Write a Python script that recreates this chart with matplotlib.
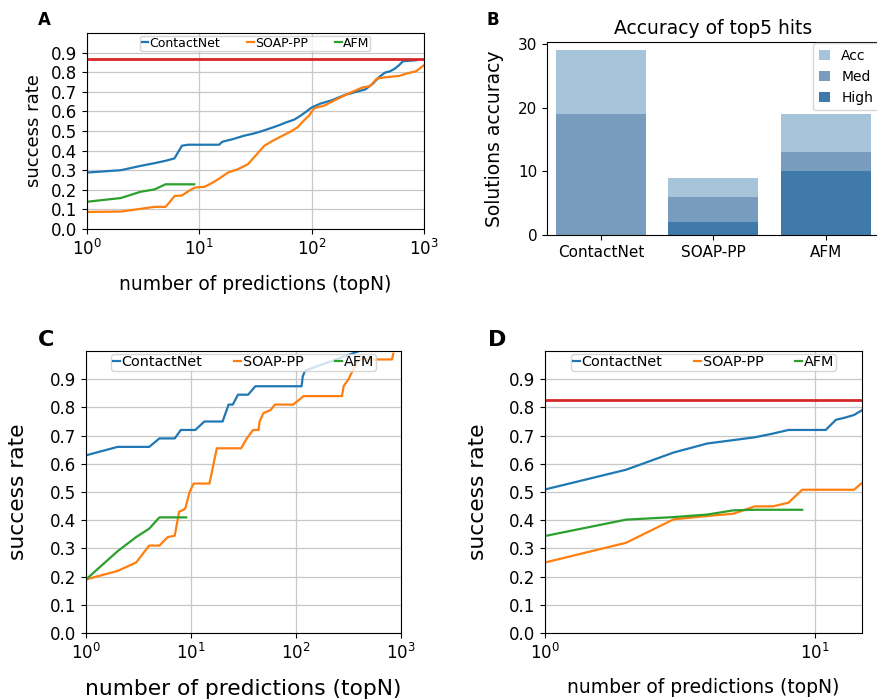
import matplotlib
matplotlib.use("Agg")
import matplotlib.pyplot as plt
import numpy as np

# ---- panel A: success rate vs topN (all targets) ----
a_cn_n = [1, 2, 3, 4, 5, 6, 7, 8, 15, 16, 20, 25, 30, 35, 40, 50, 60, 70, 80, 90, 100,
          120, 150, 200, 250, 300, 350, 400, 450, 500, 550, 600, 650, 850]
a_cn_y = [0.288, 0.30, 0.322, 0.336, 0.348, 0.36, 0.425, 0.43, 0.43, 0.445, 0.459, 0.476,
          0.486, 0.497, 0.508, 0.527, 0.545, 0.558, 0.579, 0.60, 0.62, 0.64, 0.656, 0.685,
          0.70, 0.712, 0.741, 0.776, 0.798, 0.805, 0.818, 0.836, 0.856, 0.861]
a_sp_n = [1, 2, 3, 4, 5, 5.5, 6, 7, 8, 9, 10, 11, 13, 15, 18, 22, 27, 32, 38, 45, 55, 65,
          75, 85, 95, 105, 130, 170, 220, 280, 330, 380, 450, 600, 700, 850, 1000]
a_sp_y = [0.087, 0.089, 0.103, 0.113, 0.113, 0.14, 0.168, 0.171, 0.193, 0.21, 0.214, 0.214,
          0.235, 0.257, 0.288, 0.305, 0.33, 0.377, 0.425, 0.45, 0.476, 0.497, 0.519, 0.553,
          0.579, 0.616, 0.63, 0.664, 0.695, 0.721, 0.729, 0.767, 0.774, 0.781, 0.793, 0.805,
          0.836]
a_afm_n = [1, 2, 3, 4, 5, 9]
a_afm_y = [0.139, 0.158, 0.19, 0.202, 0.228, 0.228]
a_ref = 0.865

# ---- panel B: accuracy of top5 hits ----
methods = ["ContactNet", "SOAP-PP", "AFM"]
acc = [29, 9, 19]
med = [19, 6, 13]
high = [0, 2, 10]

# ---- panel C ----
c_cn_n = [1, 2, 4, 5, 7, 8, 11, 13.4, 20, 22.8, 25, 28, 35, 41, 113, 116, 122, 400]
c_cn_y = [0.63, 0.66, 0.66, 0.69, 0.69, 0.72, 0.72, 0.75, 0.75, 0.81, 0.81, 0.845, 0.845,
          0.875, 0.875, 0.91, 0.93, 1.0]
c_sp_n = [1, 2, 3, 4, 5, 6, 7, 7.7, 8.8, 9.7, 10.6, 15, 17.6, 30, 34, 39, 44, 45, 49, 57,
          63, 94, 118, 274, 284, 316, 346, 394, 820, 845]
c_sp_y = [0.19, 0.22, 0.25, 0.31, 0.31, 0.34, 0.345, 0.43, 0.44, 0.50, 0.53, 0.53, 0.655,
          0.655, 0.69, 0.72, 0.72, 0.75, 0.78, 0.79, 0.81, 0.81, 0.84, 0.84, 0.875, 0.90,
          0.93, 0.97, 0.97, 0.99]
c_afm_n = [1, 2, 3, 4, 5, 9]
c_afm_y = [0.19, 0.29, 0.34, 0.37, 0.41, 0.41]

# ---- panel D ----
d_cn_n = list(range(1, 16))
d_cn_y = [0.509, 0.579, 0.64, 0.672, 0.684, 0.694, 0.707, 0.72, 0.72, 0.72, 0.72, 0.756,
          0.764, 0.773, 0.79]
d_sp_n = list(range(1, 16))
d_sp_y = [0.25, 0.32, 0.403, 0.415, 0.423, 0.449, 0.449, 0.462, 0.508, 0.508, 0.508, 0.508,
          0.508, 0.508, 0.532]
d_afm_n = list(range(1, 10))
d_afm_y = [0.344, 0.402, 0.411, 0.42, 0.435, 0.437, 0.437, 0.437, 0.437]
d_ref = 0.826

W, H = 878, 700
fig = plt.figure(figsize=(W / 100, H / 100), dpi=100)


def box(l, t, r, b):
    return [l / W, 1 - b / H, (r - l) / W, (b - t) / H]


def curve_panel(ax, cn, sp, afm, xmax, tick_fs, ylab_fs, xlab_fs, leg_fs, xpad, ypad,
                ref=None):
    ax.plot(*cn, color="tab:blue", lw=1.6, label="ContactNet")
    ax.plot(*sp, color="tab:orange", lw=1.6, label="SOAP-PP")
    ax.plot(*afm, color="tab:green", lw=1.6, label="AFM")
    if ref is not None:
        ax.axhline(ref, color="tab:red", lw=2)
    ax.set_xscale("log")
    ax.set_xlim(1, xmax)
    ax.set_ylim(0, 1.0)
    ax.set_yticks(np.arange(0, 0.95, 0.1))
    ax.minorticks_off()
    ax.grid(True, color="#c8c8c8", lw=0.9)
    ax.tick_params(labelsize=tick_fs)
    ax.set_ylabel("success rate", fontsize=ylab_fs, labelpad=ypad)
    ax.set_xlabel("number of predictions (topN)", fontsize=xlab_fs, labelpad=xpad)
    ax.legend(loc="upper center", ncol=3, fontsize=leg_fs, handlelength=0.5,
              handletextpad=0.1, columnspacing=2.2, borderpad=0.1,
              borderaxespad=0.2, framealpha=0.8)


axA = fig.add_axes(box(87, 33, 424, 229))
curve_panel(axA, (a_cn_n, a_cn_y), (a_sp_n, a_sp_y), (a_afm_n, a_afm_y), 1000,
            12, 13, 13.5, 9, 12, 6, ref=a_ref)

axB = fig.add_axes(box(547, 42, 880, 235))
x = np.arange(len(methods))
axB.bar(x, acc, width=0.8, color="#a6c5db", label="Acc")
axB.bar(x, med, width=0.8, color="#779cbd", label="Med")
axB.bar(x, high, width=0.8, color="#3f7aab", label="High")
axB.set_xticks(x)
axB.set_xticklabels(methods)
axB.set_xlim(-0.48, 2.48)
axB.set_ylim(0, 30.3)
axB.set_yticks([0, 10, 20, 30])
axB.tick_params(labelsize=11)
axB.set_ylabel("Solutions accuracy", fontsize=13.5, labelpad=10)
axB.set_title("Accuracy of top5 hits", fontsize=13.5)
axB.legend(loc="upper right", fontsize=10, handlelength=0.8, handleheight=0.8,
           borderaxespad=0.1, framealpha=0.8)

axC = fig.add_axes(box(86, 351, 401, 633))
curve_panel(axC, (c_cn_n, c_cn_y), (c_sp_n, c_sp_y), (c_afm_n, c_afm_y), 1000,
            12, 15.7, 15.7, 10.4, 12, 16)

axD = fig.add_axes(box(545, 351, 862, 633))
curve_panel(axD, (d_cn_n, d_cn_y), (d_sp_n, d_sp_y), (d_afm_n, d_afm_y), 15,
            12, 15.7, 13.5, 10.4, 11, 15, ref=d_ref)

for lab, (px, py), fs in [("A", (38, 20), 12), ("B", (487, 20), 12),
                          ("C", (38, 340), 16), ("D", (488, 340), 16)]:
    fig.text(px / W, 1 - py / H, lab, fontsize=fs, fontweight="bold", va="center")

fig.savefig("out.png", dpi=100)
